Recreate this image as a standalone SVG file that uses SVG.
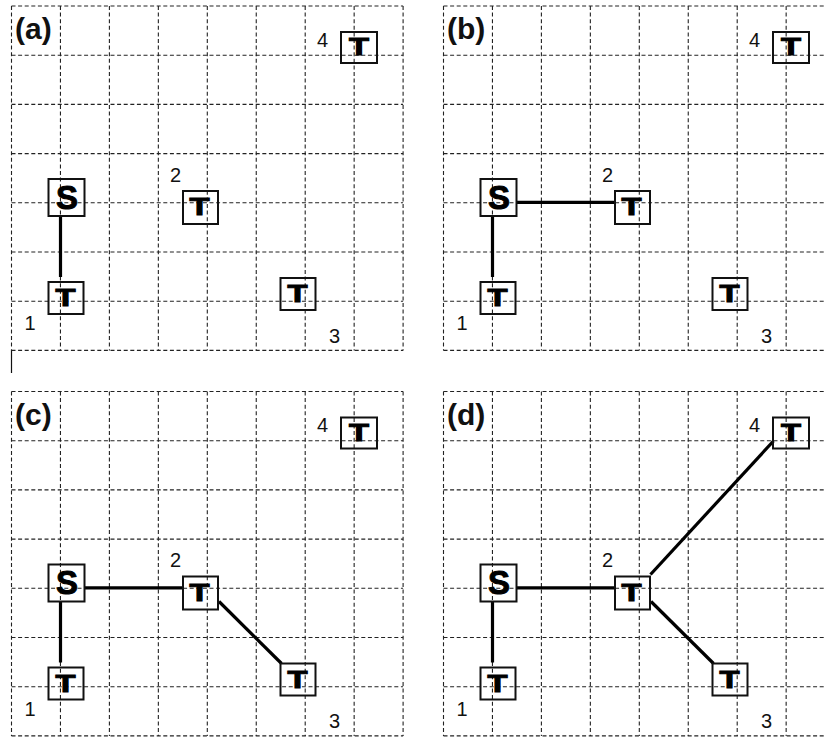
<svg xmlns="http://www.w3.org/2000/svg" xmlns:xlink="http://www.w3.org/1999/xlink" width="824" height="738" viewBox="0 0 824 738">
<style>
.g{stroke:#222;stroke-width:1.1;stroke-dasharray:4 2.6;fill:none}
.box{fill:none;stroke:#111;stroke-width:2}
.glyph{font-family:"Liberation Sans",Arial,sans-serif;font-weight:bold;fill:#000;stroke:#000;stroke-width:1;text-anchor:middle}
.num{font-family:"Liberation Sans",Arial,sans-serif;font-size:20px;fill:#111}
.plabel{font-family:"Liberation Sans",Arial,sans-serif;font-size:30px;font-weight:bold;fill:#111}
.edge{stroke:#000;stroke-width:3.2;fill:none}
</style>
<defs>
<g id="grid">
<path class="g" d="M11.5 6V350.5M60.45 6V350.5M109.4 6V350.5M158.35 6V350.5M207.3 6V350.5M256.25 6V350.5M305.2 6V350.5M354.15 6V350.5M403.1 6V350.5"/>
<path class="g" d="M11.5 6H403.1M11.5 55.2H403.1M11.5 104.4H403.1M11.5 153.6H403.1M11.5 202.8H403.1M11.5 252H403.1M11.5 301.2H403.1M11.5 350.4H403.1"/>
</g>
</defs>
<rect width="824" height="738" fill="#fff"/>
<line x1="11.5" y1="350" x2="11.5" y2="373" stroke="#111" stroke-width="1.2"/>

<g id="panel-a">
<use xlink:href="#grid"/>
<text class="plabel" x="15" y="39">(a)</text>
<g id="a-edges">
<line class="edge" x1="60.5" y1="216" x2="60.5" y2="277"/>
</g>
<g id="a-S"><rect class="box" x="48.5" y="179" width="36" height="37"/><text class="glyph" x="67" y="208.5" font-size="34" textLength="22" lengthAdjust="spacingAndGlyphs">S</text></g>
<g id="a-n1"><rect class="box" x="48.5" y="282" width="35" height="32"/><text class="glyph" x="65.5" y="306" font-size="23" textLength="20" lengthAdjust="spacingAndGlyphs">T</text><text class="num" x="24.5" y="330">1</text></g>
<g id="a-n2"><rect class="box" x="183" y="191" width="35" height="33"/><text class="glyph" x="199.5" y="215" font-size="23" textLength="20" lengthAdjust="spacingAndGlyphs">T</text><text class="num" x="170" y="181.5">2</text></g>
<g id="a-n3"><rect class="box" x="280.5" y="278" width="35" height="32"/><text class="glyph" x="297.5" y="302" font-size="23" textLength="20" lengthAdjust="spacingAndGlyphs">T</text><text class="num" x="329" y="342.5">3</text></g>
<g id="a-n4"><rect class="box" x="341" y="32" width="36" height="31"/><text class="glyph" x="359" y="55" font-size="23" textLength="20" lengthAdjust="spacingAndGlyphs">T</text><text class="num" x="317" y="46.5">4</text></g>
</g>

<g id="panel-b" transform="translate(432,0)">
<use xlink:href="#grid"/>
<text class="plabel" x="15" y="39">(b)</text>
<g id="b-edges">
<line class="edge" x1="60.5" y1="216" x2="60.5" y2="277"/>
<line class="edge" x1="84.5" y1="202.3" x2="183" y2="202.3"/>
</g>
<g id="b-S"><rect class="box" x="48.5" y="179" width="36" height="37"/><text class="glyph" x="67" y="208.5" font-size="34" textLength="22" lengthAdjust="spacingAndGlyphs">S</text></g>
<g id="b-n1"><rect class="box" x="48.5" y="282" width="35" height="32"/><text class="glyph" x="65.5" y="306" font-size="23" textLength="20" lengthAdjust="spacingAndGlyphs">T</text><text class="num" x="24.5" y="330">1</text></g>
<g id="b-n2"><rect class="box" x="183" y="191" width="35" height="33"/><text class="glyph" x="199.5" y="215" font-size="23" textLength="20" lengthAdjust="spacingAndGlyphs">T</text><text class="num" x="170" y="181.5">2</text></g>
<g id="b-n3"><rect class="box" x="280.5" y="278" width="35" height="32"/><text class="glyph" x="297.5" y="302" font-size="23" textLength="20" lengthAdjust="spacingAndGlyphs">T</text><text class="num" x="329" y="342.5">3</text></g>
<g id="b-n4"><rect class="box" x="341" y="32" width="36" height="31"/><text class="glyph" x="359" y="55" font-size="23" textLength="20" lengthAdjust="spacingAndGlyphs">T</text><text class="num" x="317" y="46.5">4</text></g>
</g>

<g id="panel-c" transform="translate(0,385.5)">
<use xlink:href="#grid"/>
<text class="plabel" x="15" y="39">(c)</text>
<g id="c-edges">
<line class="edge" x1="60.5" y1="216" x2="60.5" y2="277"/>
<line class="edge" x1="84.5" y1="202.3" x2="183" y2="202.3"/>
<line class="edge" x1="219" y1="216" x2="281.5" y2="278"/>
</g>
<g id="c-S"><rect class="box" x="48.5" y="179" width="36" height="37"/><text class="glyph" x="67" y="208.5" font-size="34" textLength="22" lengthAdjust="spacingAndGlyphs">S</text></g>
<g id="c-n1"><rect class="box" x="48.5" y="282" width="35" height="32"/><text class="glyph" x="65.5" y="306" font-size="23" textLength="20" lengthAdjust="spacingAndGlyphs">T</text><text class="num" x="24.5" y="330">1</text></g>
<g id="c-n2"><rect class="box" x="183" y="191" width="35" height="33"/><text class="glyph" x="199.5" y="215" font-size="23" textLength="20" lengthAdjust="spacingAndGlyphs">T</text><text class="num" x="170" y="181.5">2</text></g>
<g id="c-n3"><rect class="box" x="280.5" y="278" width="35" height="32"/><text class="glyph" x="297.5" y="302" font-size="23" textLength="20" lengthAdjust="spacingAndGlyphs">T</text><text class="num" x="329" y="342.5">3</text></g>
<g id="c-n4"><rect class="box" x="341" y="32" width="36" height="31"/><text class="glyph" x="359" y="55" font-size="23" textLength="20" lengthAdjust="spacingAndGlyphs">T</text><text class="num" x="317" y="46.5">4</text></g>
</g>

<g id="panel-d" transform="translate(432,385.5)">
<use xlink:href="#grid"/>
<text class="plabel" x="15" y="39">(d)</text>
<g id="d-edges">
<line class="edge" x1="60.5" y1="216" x2="60.5" y2="277"/>
<line class="edge" x1="84.5" y1="202.3" x2="183" y2="202.3"/>
<line class="edge" x1="219" y1="216" x2="281.5" y2="278"/>
<line class="edge" x1="218.5" y1="189" x2="341.5" y2="55.5"/>
</g>
<g id="d-S"><rect class="box" x="48.5" y="179" width="36" height="37"/><text class="glyph" x="67" y="208.5" font-size="34" textLength="22" lengthAdjust="spacingAndGlyphs">S</text></g>
<g id="d-n1"><rect class="box" x="48.5" y="282" width="35" height="32"/><text class="glyph" x="65.5" y="306" font-size="23" textLength="20" lengthAdjust="spacingAndGlyphs">T</text><text class="num" x="24.5" y="330">1</text></g>
<g id="d-n2"><rect class="box" x="183" y="191" width="35" height="33"/><text class="glyph" x="199.5" y="215" font-size="23" textLength="20" lengthAdjust="spacingAndGlyphs">T</text><text class="num" x="170" y="181.5">2</text></g>
<g id="d-n3"><rect class="box" x="280.5" y="278" width="35" height="32"/><text class="glyph" x="297.5" y="302" font-size="23" textLength="20" lengthAdjust="spacingAndGlyphs">T</text><text class="num" x="329" y="342.5">3</text></g>
<g id="d-n4"><rect class="box" x="341" y="32" width="36" height="31"/><text class="glyph" x="359" y="55" font-size="23" textLength="20" lengthAdjust="spacingAndGlyphs">T</text><text class="num" x="317" y="46.5">4</text></g>
</g>
</svg>
